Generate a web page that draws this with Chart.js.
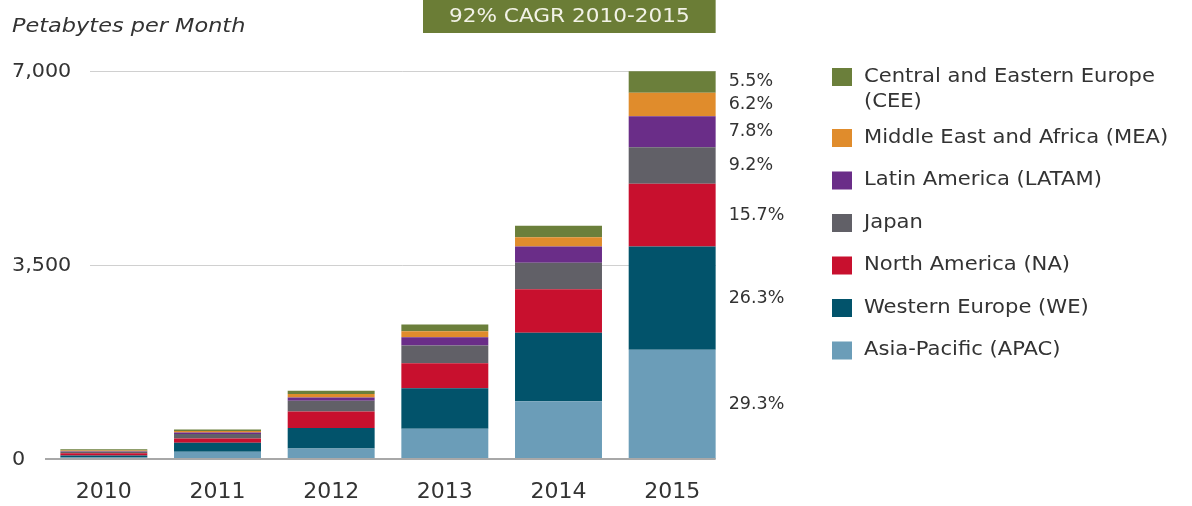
<!DOCTYPE html>
<html>
<head>
<meta charset="utf-8">
<title>Petabytes per Month</title>
<script src="https://cdn.jsdelivr.net/npm/chart.js@4/dist/chart.umd.min.js"></script>
<style>
  html, body { margin: 0; padding: 0; background: #ffffff; }
  #wrap { width: 1192px; height: 506px; }
</style>
</head>
<body>
<div id="wrap"><canvas id="traffic" width="1192" height="506"></canvas></div>
<script>
var years = ["2010", "2011", "2012", "2013", "2014", "2015"];

// bottom to top in each bar
var apac = [25, 132, 191, 545, 1043, 1970];
var we = [36, 162, 368, 732, 1234, 1864];
var na = [42, 78, 300, 451, 786, 1131];
var japan = [27, 78, 193, 320, 476, 660];
var latam = [12, 30, 59, 149, 295, 559];
var mea = [12, 24, 62, 109, 167, 422];
var cee = [20, 30, 59, 120, 206, 390];

var regionNames = [
  ["Asia-Pacific (APAC)"],
  ["Western Europe (WE)"],
  ["North America (NA)"],
  ["Japan"],
  ["Latin America (LATAM)"],
  ["Middle East and Africa (MEA)"],
  ["Central and Eastern Europe", "(CEE)"]
];
var regionColors = ["#6b9db8", "#02536b", "#c8102e", "#616067", "#6a2d88", "#e08c2c", "#6b7f3b"];
var share2015 = ["29.3%", "26.3%", "15.7%", "9.2%", "7.8%", "6.2%", "5.5%"];
var yTicks = [0, 3500, 7000];
var yTickLabels = ["0", "3,500", "7,000"];
var axisTitle = "Petabytes per Month";
var cagrText = "92% CAGR 2010-2015";

var FONT = "'DejaVu Sans', sans-serif";
var TEXT = "#333333";

// the original type is a wide face, so stretch the glyphs a little
function wideText(ctx, text, x, y, sx) {
  ctx.save();
  ctx.translate(x, y);
  ctx.scale(sx, 1);
  ctx.fillText(text, 0, 0);
  ctx.restore();
}

var decorations = {
  id: "decorations",
  beforeDatasetsDraw: function (chart) {
    var ctx = chart.ctx;
    var y = chart.scales.y;
    var lastBar = chart.getDatasetMeta(0).data[years.length - 1];
    var right = lastBar.x + lastBar.width / 2;
    ctx.save();
    // gridlines
    ctx.strokeStyle = "#d0d0d0";
    ctx.lineWidth = 1;
    for (var i = 1; i < yTicks.length; i++) {
      var py = Math.round(y.getPixelForValue(yTicks[i])) + 0.5;
      ctx.beginPath();
      ctx.moveTo(90, py);
      ctx.lineTo(right, py);
      ctx.stroke();
    }
    // y labels
    ctx.fillStyle = TEXT;
    ctx.font = "19px " + FONT;
    ctx.textAlign = "left";
    ctx.textBaseline = "middle";
    for (var j = 0; j < yTicks.length; j++) {
      wideText(ctx, yTickLabels[j], 12, y.getPixelForValue(yTicks[j]) + 1, 1.09);
    }
    ctx.restore();
  },
  afterDatasetsDraw: function (chart) {
    var ctx = chart.ctx;
    var y = chart.scales.y;
    var lastBar = chart.getDatasetMeta(0).data[years.length - 1];
    var right = lastBar.x + lastBar.width / 2;
    var zero = y.getPixelForValue(0);
    ctx.save();
    // baseline
    ctx.strokeStyle = "#a8a8a8";
    ctx.lineWidth = 2;
    ctx.beginPath();
    ctx.moveTo(45, zero);
    ctx.lineTo(right, zero);
    ctx.stroke();

    // 2015 shares
    ctx.fillStyle = TEXT;
    ctx.font = "17px " + FONT;
    ctx.textAlign = "left";
    ctx.textBaseline = "middle";
    for (var d = 0; d < share2015.length; d++) {
      var bar = chart.getDatasetMeta(d).data[years.length - 1];
      wideText(ctx, share2015[d], right + 13, (bar.y + bar.base) / 2, 1.03);
    }

    // axis title
    ctx.font = "italic 19px " + FONT;
    wideText(ctx, axisTitle, 12, 27, 1.18);

    // CAGR box
    ctx.fillStyle = "#6b7d36";
    ctx.fillRect(423, 0, right - 423, 33);
    ctx.fillStyle = "#f2f2e6";
    ctx.font = "20px " + FONT;
    ctx.textAlign = "center";
    wideText(ctx, cagrText, (423 + right) / 2, 17, 1.08);

    // legend, top item first
    ctx.textAlign = "left";
    ctx.font = "19px " + FONT;
    var rowY = 77;
    for (var k = regionNames.length - 1; k >= 0; k--) {
      ctx.fillStyle = regionColors[k];
      ctx.fillRect(832, rowY - 9, 20, 18);
      ctx.fillStyle = TEXT;
      for (var n = 0; n < regionNames[k].length; n++) {
        wideText(ctx, regionNames[k][n], 864, rowY + n * 25, 1.11);
      }
      rowY += 42.5 + (regionNames[k].length - 1) * 18.5;
    }
    ctx.restore();
  }
};

function make_chart() {
  var series = [apac, we, na, japan, latam, mea, cee];
  var datasets = [];
  for (var i = 0; i < series.length; i++) {
    datasets.push({
      label: regionNames[i].join(" "),
      data: series[i],
      backgroundColor: regionColors[i],
      borderWidth: 0,
      barPercentage: 0.765,
      categoryPercentage: 1
    });
  }
  var config = {
    type: "bar",
    data: { labels: years, datasets: datasets },
    options: {
      responsive: false,
      animation: false,
      devicePixelRatio: 1,
      layout: { padding: { left: 47, right: 463, top: 71, bottom: 0 } },
      plugins: { legend: { display: false }, tooltip: { enabled: false } },
      scales: {
        x: {
          stacked: true,
          grid: { display: false, drawTicks: false },
          border: { display: false },
          ticks: { color: TEXT, padding: 20, font: { family: FONT, size: 22 } },
          afterFit: function (scale) {
            scale.height = 47;
          }
        },
        y: {
          stacked: true,
          display: false,
          min: 0,
          max: 7000
        }
      }
    },
    plugins: [decorations]
  };
  var ctx = document.getElementById("traffic").getContext("2d");
  new Chart(ctx, config);
}

make_chart();
</script>
</body>
</html>
